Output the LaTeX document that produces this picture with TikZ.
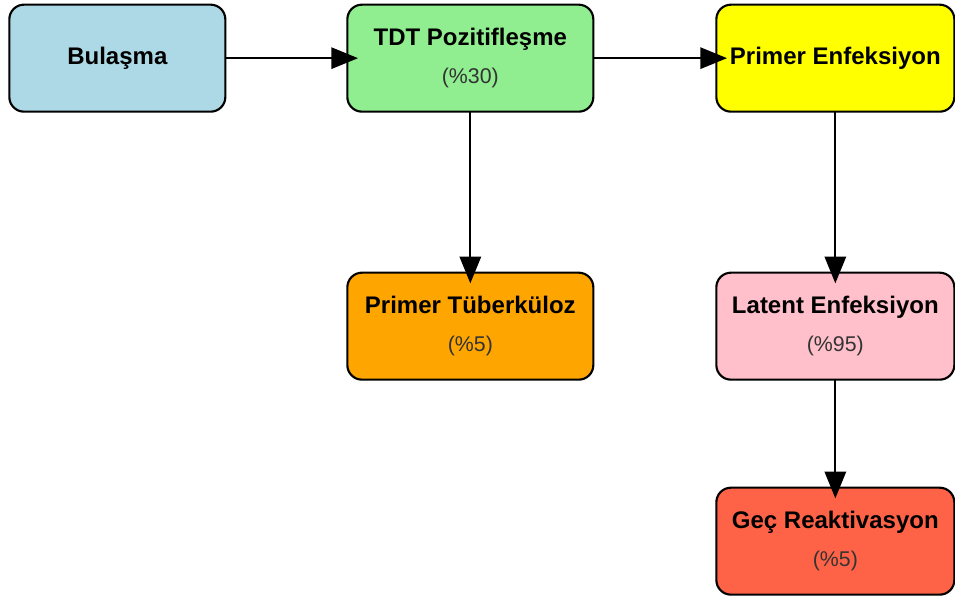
\documentclass[tikz,border=0pt]{standalone}
\usepackage{fontspec}
\setmainfont{Liberation Sans}
\usetikzlibrary{arrows.meta,positioning}
\definecolor{BulasmaBlue}{HTML}{ADD8E6}
\definecolor{PozitifGreen}{HTML}{90EE90}
\definecolor{PrimerYellow}{HTML}{FFFF00}
\definecolor{TuberkOrange}{HTML}{FFA500}
\definecolor{LatentPink}{HTML}{FFC0CB}
\definecolor{ReaktRed}{HTML}{FF6347}
\definecolor{OranGray}{HTML}{333333}
\newcommand{\oran}[1]{\\{\fontsize{16}{28}\selectfont\mdseries\color{OranGray}(\%#1)}}

\begin{document}
\begin{tikzpicture}[
  box/.style={draw,line width=1.6pt,rounded corners=11pt,align=center,inner sep=2pt,outer sep=0pt,
    minimum height=80.25pt,font=\fontsize{18}{28}\selectfont\bfseries},
  arrow/.style={-{Triangle[length=20pt,width=16pt]},line width=1.5pt,shorten >=-8pt}
]
  \useasboundingbox (0,0) rectangle (716.25pt,-449.25pt);
  \node[box, fill=BulasmaBlue, minimum width=162pt, anchor=north west] (bulasma) at (7pt,-3.5pt) {Bulaşma};
  \node[box, fill=PozitifGreen, minimum width=184.5pt, right=91.5pt of bulasma] (pozitif) {TDT Pozitifleşme\oran{30}};
  \node[box, fill=PrimerYellow, minimum width=178.5pt, right=92.25pt of pozitif] (primer) {Primer Enfeksiyon};
  \node[box, fill=TuberkOrange, minimum width=184.5pt, below=120.75pt of pozitif] (tuberk) {Primer Tüberküloz\oran{5}};
  \node[box, fill=LatentPink, minimum width=178.5pt, below=120.75pt of primer] (latent) {Latent Enfeksiyon\oran{95}};
  \node[box, fill=ReaktRed, minimum width=178.5pt, below=81pt of latent] (reakt) {Geç Reaktivasyon\oran{5}};

  \draw[arrow] (bulasma) -- (pozitif);
  \draw[arrow] (pozitif) -- (primer);
  \draw[arrow] (pozitif) -- (tuberk);
  \draw[arrow] (primer) -- (latent);
  \draw[arrow] (latent) -- (reakt);
\end{tikzpicture}
\end{document}
